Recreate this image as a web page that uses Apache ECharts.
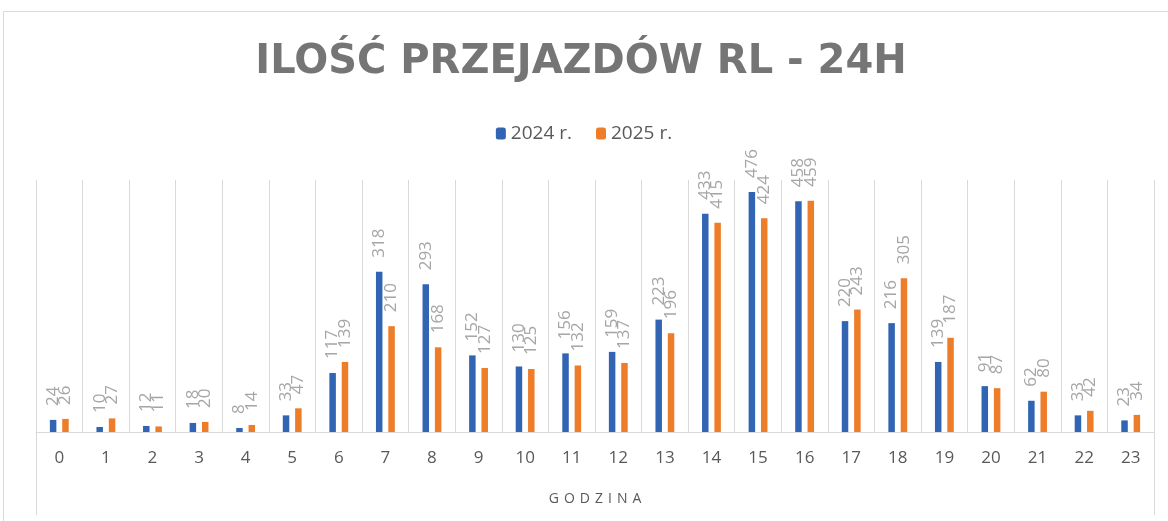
<!DOCTYPE html>
<html>
<head>
<meta charset="utf-8">
<script src="https://cdn.jsdelivr.net/npm/echarts@6/dist/echarts.min.js"></script>
<style>
  html, body { margin: 0; padding: 0; background: #fff; }
</style>
</head>
<body>
<div id="main" style="width:1168px;height:521px;"></div>
<script>
// godziny 0-23
var hours = ['0','1','2','3','4','5','6','7','8','9','10','11','12','13','14','15','16','17','18','19','20','21','22','23'];
var rides2024 = [24, 10, 12, 18, 8, 33, 117, 318, 293, 152, 130, 156, 159, 223, 433, 476, 458, 220, 216, 139, 91, 62, 33, 23];
var rides2025 = [26, 27, 11, 20, 14, 47, 139, 210, 168, 127, 125, 132, 137, 196, 415, 424, 459, 243, 305, 187, 87, 80, 42, 34];
var seriesNames = ['2024 r.', '2025 r.'];
var axisTitle = 'GODZINA';

var chart = echarts.init(document.getElementById('main'));

var labelStyle = {
    show: true,
    position: 'top',
    rotate: 90,
    distance: 14,
    align: 'left',
    verticalAlign: 'middle',
    color: '#a6a6a6',
    fontSize: 17,
    fontFamily: 'Open Sans'
};

// rozstrzelony podpis osi (litery jako osobne fragmenty rich)
var spacedName = axisTitle.split('').map(function (ch) { return '{l|' + ch + '}'; }).join('');

var option = {
    backgroundColor: '#fff',
    color: ['#3165b3', '#ee7d2a'],
    title: {
        text: 'ILOŚĆ PRZEJAZDÓW RL - 24H',
        left: 576,
        textAlign: 'center',
        top: 38,
        textStyle: {
            color: '#757575',
            fontSize: 40,
            fontWeight: 'bold',
            fontFamily: 'DejaVu Sans'
        }
    },
    legend: {
        data: seriesNames,
        top: 119,
        left: 'center',
        itemWidth: 10,
        itemHeight: 12,
        itemGap: 24,
        textStyle: { color: '#595959', fontSize: 19, fontFamily: 'Open Sans' }
    },
    grid: {
        left: 36,
        right: 14,
        top: 180,
        bottom: 89
    },
    xAxis: {
        type: 'category',
        data: hours,
        name: spacedName,
        nameLocation: 'middle',
        nameGap: 60,
        nameTextStyle: {
            color: '#595959', fontSize: 14, fontFamily: 'Open Sans',
            rich: { l: { color: '#595959', fontSize: 14, fontFamily: 'Open Sans', padding: [0, 2.5] } }
        },
        axisLine: { lineStyle: { color: '#d9d9d9', width: 1 } },
        axisTick: { show: false },
        axisLabel: { color: '#595959', fontSize: 17, margin: 18, fontFamily: 'Open Sans' },
        splitLine: { show: true, lineStyle: { color: '#d9d9d9', width: 1 } }
    },
    yAxis: {
        type: 'value',
        min: 0,
        max: 500,
        show: false,
        splitLine: { show: false }
    },
    graphic: [
        { type: 'rect', shape: { x: 3.5, y: 11.5, width: 1180, height: 530 },
          style: { fill: 'none', stroke: '#d9d9d9', lineWidth: 1 }, silent: true },
        { type: 'line', shape: { x1: 36.5, y1: 432, x2: 36.5, y2: 515 },
          style: { stroke: '#d9d9d9', lineWidth: 1 }, silent: true },
        { type: 'line', shape: { x1: 1154.5, y1: 432, x2: 1154.5, y2: 515 },
          style: { stroke: '#d9d9d9', lineWidth: 1 }, silent: true }
    ],
    series: [
        {
            name: seriesNames[0],
            type: 'bar',
            data: rides2024,
            barWidth: 6.5,
            barGap: '90%',
            label: labelStyle
        },
        {
            name: seriesNames[1],
            type: 'bar',
            data: rides2025,
            barWidth: 6.5,
            barGap: '90%',
            label: labelStyle
        }
    ]
};

chart.setOption(option);
</script>
</body>
</html>
